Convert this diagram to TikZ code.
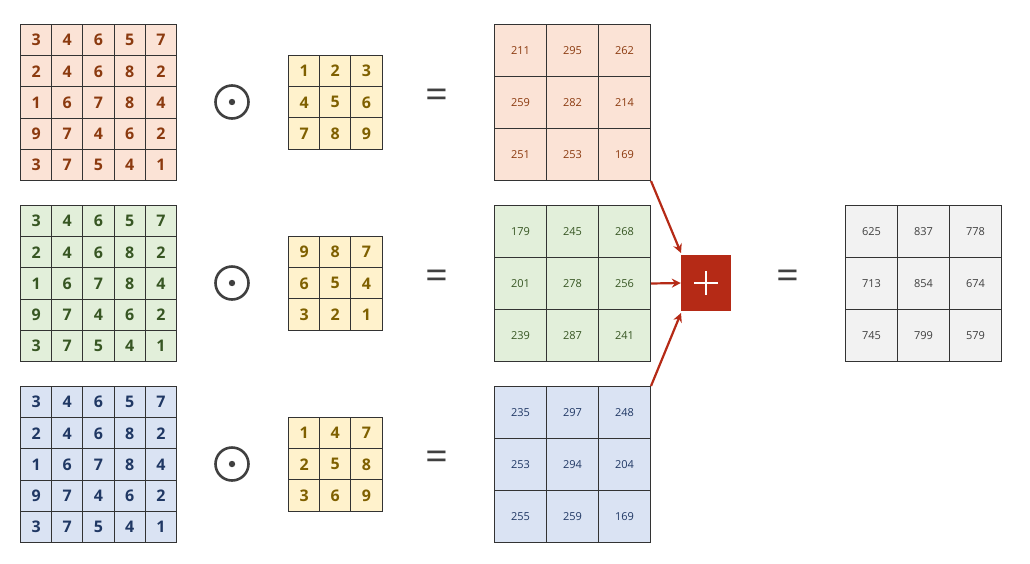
\documentclass[tikz,border=0pt]{standalone}
\usepackage{fontspec}
\setmainfont{Open Sans}
\usetikzlibrary{arrows.meta}
\definecolor{oF}{HTML}{FBE3D6}\definecolor{oT}{HTML}{8B3A0F}
\definecolor{gF}{HTML}{E2EFDA}\definecolor{gT}{HTML}{375623}
\definecolor{bF}{HTML}{DAE3F3}\definecolor{bT}{HTML}{203864}
\definecolor{yF}{HTML}{FFF2CC}\definecolor{yT}{HTML}{7F6000}
\definecolor{kF}{HTML}{F2F2F2}\definecolor{kT}{HTML}{404040}
\definecolor{rd}{HTML}{B52A16}
\begin{document}
\begin{tikzpicture}[x=1pt,y=-1pt,
  cell/.style={draw=black!80,line width=1pt,minimum size=#1,inner sep=0pt,anchor=north west},
  big/.style={font=\fontsize{16}{16}\selectfont\bfseries},
  small/.style={font=\fontsize{11}{11}\selectfont},
  op/.style={font=\fontsize{40}{40}\selectfont,text=kT},
  arr/.style={draw=rd,line width=2.2pt,-{Stealth[length=9pt,width=9pt]}}]
\useasboundingbox (0,0) rectangle (1030,563);
% left 5x5 grids
\foreach \g/\y/\f/\t in {a/24/oF/oT,b/205/gF/gT,c/386/bF/bT}{
 \foreach \row [count=\r from 0] in {{3,4,6,5,7},{2,4,6,8,2},{1,6,7,8,4},{9,7,4,6,2},{3,7,5,4,1}}
  \foreach \v [count=\c from 0] in \row
   \node[cell=31.2pt,fill=\f,text=\t,big] (\g\r\c) at (20+31.2*\c,\y+31.2*\r) {\v};
}
% kernels
\foreach \g/\y/\k in {ka/55/{{1,2,3},{4,5,6},{7,8,9}},kb/236/{{9,8,7},{6,5,4},{3,2,1}},kc/417/{{1,4,7},{2,5,8},{3,6,9}}}{
 \foreach \row [count=\r from 0] in \k
  \foreach \v [count=\c from 0] in \row
   \node[cell=31.2pt,fill=yF,text=yT,big] (\g\r\c) at (288+31.2*\c,\y+31.2*\r) {\v};
}
% results
\foreach \g/\x/\y/\f/\t/\k in {ra/494/24/oF/oT/{{211,295,262},{259,282,214},{251,253,169}},
  rb/494/205/gF/gT/{{179,245,268},{201,278,256},{239,287,241}},
  rc/494/386/bF/bT/{{235,297,248},{253,294,204},{255,259,169}},
  rd/845/205/kF/kT/{{625,837,778},{713,854,674},{745,799,579}}}{
 \foreach \row [count=\r from 0] in \k
  \foreach \v [count=\c from 0] in \row
   \node[cell=52pt,fill=\f,text=\t,small] (\g\r\c) at (\x+52*\c,\y+52*\r) {\v};
}
% operators
\foreach \n/\y in {1/102,2/283,3/464}{
 \node[circle,draw=kT,line width=2.6pt,minimum size=33pt,inner sep=0pt] (od\n) at (232,\y) {};
 \fill[kT] (232,\y) circle (3.2pt);
 \node[op] (eq\n) at (437,\y-3) {=};
}
\node[op] (eq4) at (788,280) {=};
\node[fill=rd,minimum width=50pt,minimum height=56pt,inner sep=0pt] (plus) at (706,283) {};
\draw[white,line width=2.6pt] (694,283) -- (718,283) (706,271) -- (706,295);
\coordinate (p1) at (681,253); \coordinate (p3) at (681,313);
\draw[arr] (ra22.south east) -- (p1);
\draw[arr] (rb12.east) -- (plus.west);
\draw[arr] (rc02.north east) -- (p3);
\end{tikzpicture}
\end{document}
